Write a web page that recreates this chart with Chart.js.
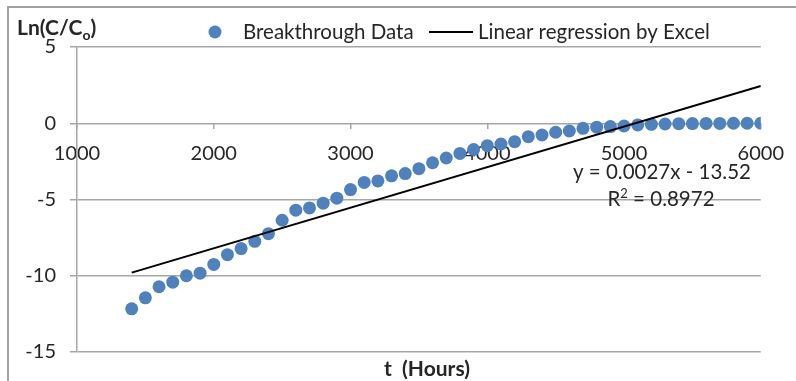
<!DOCTYPE html>
<html>
<head>
<meta charset="utf-8">
<script src="https://cdn.jsdelivr.net/npm/chart.js@4/dist/chart.umd.min.js"></script>
<style>
  html, body { margin: 0; padding: 0; background: #ffffff; }
  #wrap { position: relative; width: 796px; height: 381px; }
</style>
</head>
<body>
<div id="wrap"><canvas id="chart" width="796" height="381"></canvas></div>
<script>
// Breakthrough data: elapsed time (h) and ln(C/Co)
const hours = [
  1400, 1500, 1600, 1700, 1800, 1900, 2000, 2100, 2200, 2300,
  2400, 2500, 2600, 2700, 2800, 2900, 3000, 3100, 3200, 3300,
  3400, 3500, 3600, 3700, 3800, 3900, 4000, 4100, 4200, 4300,
  4400, 4500, 4600, 4700, 4800, 4900, 5000, 5100, 5200, 5300,
  5400, 5500, 5600, 5700, 5800, 5900, 6000
];
const lnRatio = [
  -12.17, -11.45, -10.72, -10.42, -10.00, -9.83, -9.26, -8.62, -8.22, -7.74,
  -7.24, -6.36, -5.70, -5.55, -5.24, -4.91, -4.35, -3.88, -3.78, -3.45,
  -3.30, -2.98, -2.59, -2.28, -1.98, -1.72, -1.47, -1.36, -1.21, -0.88,
  -0.77, -0.59, -0.51, -0.33, -0.26, -0.22, -0.18, -0.11, -0.07, -0.05,
  -0.03, -0.02, -0.01, -0.01, 0.00, 0.00, 0.00
];

// Axis ticks
const xTicks = [1000, 2000, 3000, 4000, 5000, 6000];
const yTicks = [5, 0, -5, -10, -15];

// Least-squares trend line
const fitSlope = 0.00266;
const fitIntercept = -13.52;
const fitR2 = 0.8972;
const fitRange = [1400, 6000];

const FONT = 'Lato, "Open Sans", sans-serif';
const TEXT = '#262626';
const GRID = '#a6a6a6';
const BLUE = '#4f81bd';

const points = hours.map((h, i) => ({ x: h, y: lnRatio[i] }));
const fitLine = fitRange.map(h => ({ x: h, y: fitSlope * h + fitIntercept }));

const eqText = 'y = ' + fitSlope.toFixed(4) + 'x - ' + Math.abs(fitIntercept).toFixed(2);
const r2Value = ' = ' + fitR2.toFixed(4);

// Frame, legend, axis titles and the trend-line equation
const annotations = {
  id: 'annotations',
  beforeDraw(chart) {
    const ctx = chart.ctx;
    ctx.save();
    ctx.strokeStyle = '#a0a0a0';
    ctx.lineWidth = 2;
    ctx.beginPath();
    ctx.moveTo(8, 381);
    ctx.lineTo(8, 7);
    ctx.lineTo(796, 7);
    ctx.stroke();
    ctx.restore();
  },
  afterDraw(chart) {
    const ctx = chart.ctx;
    ctx.save();
    ctx.fillStyle = TEXT;
    ctx.textBaseline = 'alphabetic';

    // y-axis title with subscript
    ctx.font = 'bold 21px ' + FONT;
    ctx.textAlign = 'left';
    let x = 17;
    const base = 35;
    ctx.fillText('Ln(C/C', x, base);
    x += ctx.measureText('Ln(C/C').width;
    ctx.font = 'bold 14px ' + FONT;
    ctx.fillText('o', x, base + 5);
    x += ctx.measureText('o').width;
    ctx.font = 'bold 21px ' + FONT;
    ctx.fillText(')', x, base);

    // x-axis title
    ctx.font = 'bold 21px ' + FONT;
    ctx.textAlign = 'center';
    ctx.fillText('t  (Hours)', 427, 376);

    // legend
    ctx.font = '20.5px ' + FONT;
    ctx.textAlign = 'left';
    ctx.fillStyle = BLUE;
    ctx.beginPath();
    ctx.arc(215, 32, 6.5, 0, Math.PI * 2);
    ctx.fill();
    ctx.fillStyle = TEXT;
    ctx.fillText(chart.data.datasets[1].label, 243, 39);
    ctx.strokeStyle = '#000000';
    ctx.lineWidth = 2;
    ctx.beginPath();
    ctx.moveTo(429, 32);
    ctx.lineTo(473, 32);
    ctx.stroke();
    ctx.fillText(chart.data.datasets[0].label, 478, 39);

    // trend-line equation
    ctx.font = '20.5px ' + FONT;
    ctx.textAlign = 'center';
    ctx.fillText(eqText, 662, 179);

    // R² with a raised 2
    ctx.textAlign = 'left';
    const mainFont = '20.5px ' + FONT;
    const supFont = '13px ' + FONT;
    ctx.font = mainFont;
    const wR = ctx.measureText('R').width;
    const wVal = ctx.measureText(r2Value).width;
    ctx.font = supFont;
    const w2 = ctx.measureText('2').width;
    let rx = 661 - (wR + w2 + wVal) / 2;
    ctx.font = mainFont;
    ctx.fillText('R', rx, 206);
    rx += wR;
    ctx.font = supFont;
    ctx.fillText('2', rx, 198);
    rx += w2;
    ctx.font = mainFont;
    ctx.fillText(r2Value, rx, 206);
    ctx.restore();
  }
};

new Chart(document.getElementById('chart'), {
  type: 'scatter',
  data: {
    datasets: [
      {
        type: 'line',
        label: 'Linear regression by Excel',
        data: fitLine,
        borderColor: '#000000',
        borderWidth: 2,
        pointRadius: 0,
        fill: false,
        order: 0
      },
      {
        label: 'Breakthrough Data',
        data: points,
        backgroundColor: BLUE,
        borderColor: BLUE,
        borderWidth: 0,
        pointRadius: 6.5,
        order: 1
      }
    ]
  },
  options: {
    responsive: false,
    devicePixelRatio: 1,
    animation: false,
    events: [],
    layout: { padding: { left: 8, top: 47, right: 34, bottom: 29 } },
    plugins: {
      legend: { display: false },
      tooltip: { enabled: false },
      title: { display: false }
    },
    scales: {
      x: {
        type: 'linear',
        min: 1000,
        max: 6000,
        position: { y: 0 },
        z: 1,
        afterBuildTicks: s => { s.ticks = xTicks.map(v => ({ value: v })); },
        border: { display: false },
        grid: { drawOnChartArea: false, drawTicks: true, tickLength: 6, color: GRID, lineWidth: 1.5 },
        ticks: {
          font: { family: FONT, size: 20 }, color: TEXT, padding: 12,
          maxRotation: 0, autoSkip: false,
          callback: v => String(v)
        }
      },
      y: {
        type: 'linear',
        min: -15,
        max: 5,
        afterBuildTicks: s => { s.ticks = yTicks.map(v => ({ value: v })); },
        afterFit: s => { s.width = 69; },
        border: { display: true, color: GRID, width: 1.5 },
        grid: { color: GRID, lineWidth: 1.5, tickLength: 7 },
        ticks: { font: { family: FONT, size: 20 }, color: TEXT, padding: 14, callback: v => String(v) }
      }
    }
  },
  plugins: [annotations]
});
</script>
</body>
</html>
